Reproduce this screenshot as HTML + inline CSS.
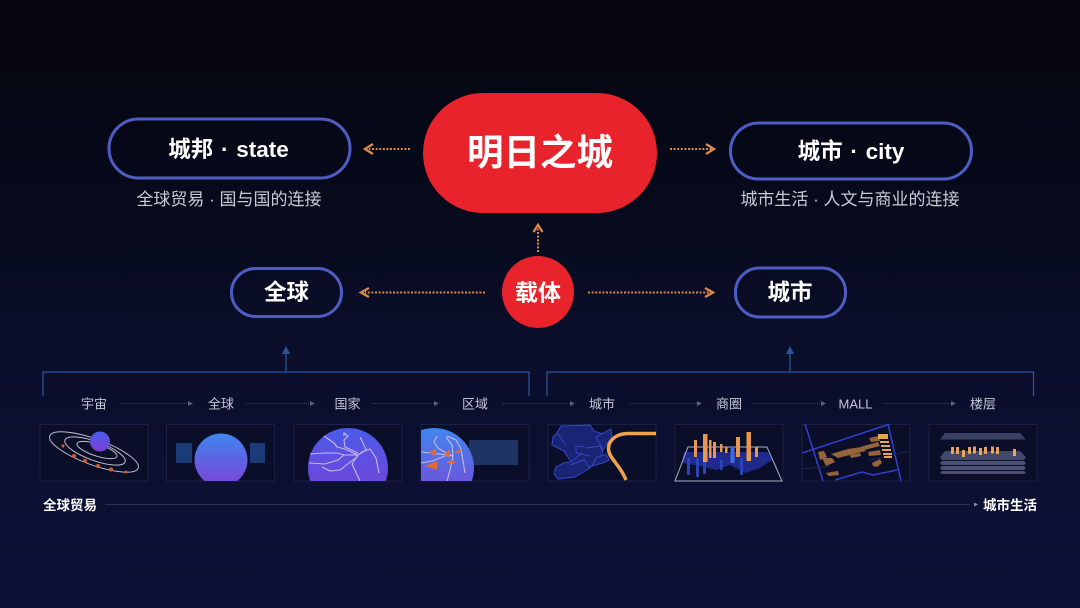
<!DOCTYPE html>
<html><head><meta charset="utf-8"><style>
html,body{margin:0;padding:0;width:1080px;height:608px;overflow:hidden;background:#060814}
svg{display:block}
text{font-family:"Liberation Sans","Noto Sans CJK SC",sans-serif;fill:#fff;text-anchor:middle}
.b{font-weight:700}
.l{font-size:13px;fill:#c4c7d4}
.s{font-size:17px;fill:#c8cad4}
.p{fill:none;stroke:#4f5cc4;stroke-width:3}
.o{stroke:#d98a4a;stroke-width:2;stroke-dasharray:2 1.6;fill:none}
.oh{stroke:#d98a4a;stroke-width:2.4;fill:none}
.g{stroke:#3a4058;stroke-width:1;stroke-dasharray:1 1;fill:none}
.gh{fill:#5a6078}
.f{fill:#0a0e28;stroke:#1a2145;stroke-width:1}
.br{stroke:#2c5299;stroke-width:1.3;fill:none}
.w{stroke:#c9b9e6;stroke-width:1.1;fill:none}
</style></head><body>
<svg width="1080" height="608" viewBox="0 0 1080 608" xmlns="http://www.w3.org/2000/svg">
<defs>
<linearGradient id="bg" x1="0" y1="0" x2="0" y2="1"><stop offset="0" stop-color="#05060f"/><stop offset=".35" stop-color="#070a1c"/><stop offset=".6" stop-color="#0b0f2c"/><stop offset="1" stop-color="#0c1138"/></linearGradient>
<linearGradient id="s1" x1="0" y1="0" x2="0" y2="1"><stop offset="0" stop-color="#4a5be8"/><stop offset="1" stop-color="#7d3fd6"/></linearGradient>
<linearGradient id="s2" x1="0" y1="0" x2="0" y2="1"><stop offset="0" stop-color="#3f86ee"/><stop offset="1" stop-color="#7d42d6"/></linearGradient>
<clipPath id="c2"><rect x="166" y="424" width="109" height="57"/></clipPath>
<clipPath id="c3"><rect x="294" y="424" width="108" height="57"/></clipPath>
<clipPath id="c4"><rect x="421" y="424" width="108" height="57"/></clipPath>
<clipPath id="c7"><rect x="802" y="424" width="108" height="57"/></clipPath>
</defs>
<rect width="1080" height="608" fill="url(#bg)"/>

<rect x="109" y="119" width="241" height="59" rx="29.5" class="p"/>
<text x="228.500" y="157" font-size="22.500" class="b" word-spacing="1.500">城邦 · state</text>
<text x="229" y="205" class="s">全球贸易 · 国与国的连接</text>
<rect x="730.500" y="123" width="241" height="56" rx="28" class="p"/>
<text x="851" y="159" font-size="22.500" class="b" word-spacing="1.500">城市 · city</text>
<text x="850" y="205" class="s">城市生活 · 人文与商业的连接</text>
<rect x="423" y="93" width="234" height="120" rx="60" fill="#e8232b"/>
<text x="540" y="165" font-size="36.500" class="b">明日之城</text>

<rect x="231.500" y="268.500" width="110" height="48" rx="24" class="p"/>
<text x="286.500" y="300" font-size="22.500" class="b">全球</text>
<rect x="735.500" y="268" width="110" height="49" rx="24" class="p"/>
<text x="790" y="300" font-size="22.500" class="b">城市</text>
<circle cx="538" cy="292" r="36" fill="#e8232b"/>
<text x="538" y="300.500" font-size="23" class="b">载体</text>

<path class="o" d="M410 149H369"/><path class="oh" d="M373 144L365 149L373 154"/>
<path class="o" d="M670 149H712"/><path class="oh" d="M706 144L714 149L706 154"/>
<path class="o" d="M538 252V229"/><path class="oh" d="M533.500 232L538 225L542.500 232"/>
<path class="o" d="M485 292.500H365"/><path class="oh" d="M369 288L361 292.500L369 297"/>
<path class="o" d="M588 292.500H711"/><path class="oh" d="M705 288L713 292.500L705 297"/>

<path class="br" d="M43 396V372H529V396"/>
<path class="br" d="M547 396V372H1033.500V396"/>
<path d="M286 372V349" stroke="#2c5299" stroke-width="1.3"/><path d="M282 354L286 346L290 354Z" fill="#2c5299"/>
<path d="M790 372V349" stroke="#2c5299" stroke-width="1.3"/><path d="M786 354L790 346L794 354Z" fill="#2c5299"/>

<g>
<text class="l" x="94" y="408.500">宇宙</text>
<text class="l" x="221" y="408.500">全球</text>
<text class="l" x="347.500" y="408.500">国家</text>
<text class="l" x="475" y="408.500">区域</text>
<text class="l" x="602" y="408.500">城市</text>
<text class="l" x="729" y="408.500">商圈</text>
<text class="l" x="855.500" y="408.500">MALL</text>
<text class="l" x="983" y="408.500">楼层</text>
</g>
<g>
<path class="g" d="M120 403.500H188"/><path class="gh" d="M188 401L193 403.500L188 406Z"/>
<path class="g" d="M246 403.500H310"/><path class="gh" d="M310 401L315 403.500L310 406Z"/>
<path class="g" d="M373 403.500H434"/><path class="gh" d="M434 401L439 403.500L434 406Z"/>
<path class="g" d="M503 403.500H570"/><path class="gh" d="M570 401L575 403.500L570 406Z"/>
<path class="g" d="M630 403.500H697"/><path class="gh" d="M697 401L702 403.500L697 406Z"/>
<path class="g" d="M753 403.500H821"/><path class="gh" d="M821 401L826 403.500L821 406Z"/>
<path class="g" d="M884 403.500H951"/><path class="gh" d="M951 401L956 403.500L951 406Z"/>
</g>

<rect class="f" x="40" y="424.500" width="108" height="56.500"/>
<rect class="f" x="166.500" y="424.500" width="108" height="56.500"/>
<rect class="f" x="294" y="424.500" width="108" height="56.500"/>
<rect class="f" x="421" y="424.500" width="108" height="56.500"/>
<rect class="f" x="548" y="424.500" width="108" height="56.500"/>
<rect class="f" x="675" y="424.500" width="108" height="56.500"/>
<rect class="f" x="802" y="424.500" width="108" height="56.500"/>
<rect class="f" x="929" y="424.500" width="108" height="56.500"/>

<!-- 1 orbit -->
<g fill="none" stroke="#c0bccb" stroke-width="1">
<ellipse cx="94" cy="452" rx="47" ry="13" transform="rotate(20 94 452)"/>
<ellipse cx="95" cy="451" rx="32" ry="9.500" transform="rotate(20 95 451)"/>
<ellipse cx="97" cy="450" rx="21" ry="6" transform="rotate(18 97 450)"/>
</g>
<circle cx="100" cy="441.500" r="10" fill="url(#s1)"/>
<g fill="#d9592f"><circle cx="63" cy="446" r="1.500"/><circle cx="74" cy="456" r="2"/><circle cx="85" cy="461" r="2"/><circle cx="98" cy="466" r="2"/><circle cx="111" cy="469.500" r="2"/><circle cx="126" cy="472" r="1.500"/></g>

<!-- 2 -->
<rect x="176" y="443" width="16" height="20" fill="#1b3a78"/>
<rect x="250" y="443" width="15" height="20" fill="#1b3a78"/>
<circle cx="221" cy="460" r="26.500" fill="url(#s2)" clip-path="url(#c2)"/>

<!-- 3 -->
<circle cx="348" cy="468" r="40" fill="url(#s1)" clip-path="url(#c3)"/>
<g class="w" clip-path="url(#c3)">
<path d="M324 436L334 443L337 447L345 449L358 455"/>
<path d="M344 436L344 433L348 436L344 440L345 447L358 453"/>
<path d="M360 437L364 445L366 450L358 455L362 452L370 449L376 458L379 473"/>
<path d="M310 454L325 453L337 453L344 455L358 455L352 464L360 481"/>
<path d="M309 463L325 464L338 460L344 455"/>
<path d="M322 467L330 471L340 470L358 456"/>
</g>
<!-- 4 -->
<rect x="469" y="440" width="49" height="25" fill="#1c3363"/>
<circle cx="434" cy="468" r="40" fill="url(#s2)" clip-path="url(#c4)"/>
<g class="w" clip-path="url(#c4)">
<path d="M437 436L434 442L438 448L446 453L453 456"/>
<path d="M446 437L452 445L453 456L450 470L447 481"/>
<path d="M447 436L456 440L461 449L465 473"/>
<path d="M421 452L432 453L453 456"/>
<path d="M421 463L432 461L445 456"/>
</g>
<g fill="#e06a3a"><path d="M428 452L436 449L436 457Z"/><path d="M425 466L437 461L437 470Z"/><path d="M444 454L450 449L450 458Z"/><path d="M455 451L463 449L458 454Z"/><rect x="447" y="461" width="8" height="2"/></g>

<!-- 5 -->
<g fill="#1a2474" stroke="#3348c8" stroke-width="1">
<path d="M561 426L590 425L594 431L600 433L604 434L603 444L600 446L603 452L598 459L590 468L575 477L558 479L554 474L556 467L564 463L571 462L564 451L552 445L553 437L557 433Z"/>
<path d="M590 468L584 460L570 465M557 433L566 445M585 447L576 446L576 453L590 456M601 446L586 448M571 462L582 453" fill="none"/>
<path d="M596 437L611 429L612 438L606 445L603 450Z"/>
<path d="M596 458L606 454L609 460L603 463L592 466Z"/>
</g>
<path d="M656 433.500H628C618 433.500 609 439 608.500 448C608 458 620 464 626 480" stroke="#f0a24e" stroke-width="3.500" fill="none"/>

<!-- 6 -->
<path d="M684 452L768 452L772 460L760 468L745 473L730 465L716 470L700 466L682 463Z" fill="#1f2a8c"/>
<g fill="#2a45b8"><rect x="687" y="458" width="3" height="17"/><rect x="696" y="458" width="3" height="19"/><rect x="703" y="460" width="3" height="14"/><rect x="720" y="460" width="2.500" height="10"/><rect x="740" y="458" width="3" height="17"/></g>
<path d="M688 447H767L782 481H675Z" fill="none" stroke="#aab0cc" stroke-width="1"/>
<g fill="#e8984c"><rect x="694" y="440" width="3" height="17"/><rect x="703" y="434" width="4.500" height="28"/><rect x="709" y="440" width="2.500" height="18"/><rect x="713" y="442" width="3" height="16"/><rect x="720" y="444" width="2.500" height="8"/><rect x="725" y="447" width="2.500" height="6"/><rect x="736" y="437" width="4" height="20"/><rect x="746.500" y="432" width="4.500" height="29"/><rect x="755" y="447" width="3" height="10"/></g>
<rect x="730.500" y="447" width="4" height="16" fill="#3f6be0"/>

<!-- 7 -->
<g clip-path="url(#c7)">
<path d="M802 453L890 424M805 424L823 481M888 424L901 481M835 480L862 472L873 475L897 470" stroke="#3040d0" stroke-width="1.500" fill="none"/>
<path d="M802 469L830 466M870 460L910 451" stroke="#1e2750" stroke-width="1" fill="none"/>
<g fill="#96643a"><path d="M818 452L824 451L827 457L820 460Z"/><path d="M822 458L832 458L835 462L826 466Z"/><path d="M831 454L848 449L862 447L866 451L838 458Z"/><path d="M860 447L878 442L880 446L864 450Z"/><path d="M869 438L879 436L880 441L871 442Z"/><path d="M850 455L860 453L861 456L851 458Z"/><path d="M868 452L880 450L881 455L869 456Z"/><path d="M872 463L880 459L882 463L877 467L873 466Z"/><path d="M826 473L838 471L839 475L829 476Z"/></g>
<g fill="#e6a552"><rect x="878" y="434" width="10" height="5"/><rect x="880" y="441" width="9" height="2"/><rect x="881" y="445" width="9" height="2"/><rect x="882" y="449" width="9" height="2"/><rect x="883" y="453" width="9" height="2"/><rect x="884" y="456" width="8" height="2"/></g>
</g>

<!-- 8 -->
<path d="M945 433H1020L1026 439.500H940Z" fill="#3a4063"/>
<path d="M945 451H1020L1026 457L1024 460H942L940 457Z" fill="#414868"/>
<path d="M942 461H1024L1026 463L1024 465H942L940 463Z" fill="#4a5172"/>
<path d="M942 466H1024L1026 468L1024 470H942L940 468Z" fill="#4a5172"/>
<path d="M942 471H1024L1026 472.500L1024 474H942L940 472.500Z" fill="#4a5172"/>
<g fill="#e8a458"><rect x="951" y="447" width="3" height="7"/><rect x="956" y="447" width="3" height="7"/><rect x="962" y="450" width="3" height="7"/><rect x="968" y="447" width="3" height="7"/><rect x="973" y="446.500" width="3" height="7"/><rect x="979" y="448" width="3" height="7"/><rect x="984" y="447" width="3" height="7"/><rect x="991" y="446.500" width="3" height="7"/><rect x="996" y="447" width="3" height="7"/><rect x="1013" y="449" width="3" height="7"/></g>

<text class="b" x="70" y="510" font-size="13.500">全球贸易</text>
<text class="b" x="1010" y="510" font-size="13.500">城市生活</text>
<path d="M105 504.500H970" stroke="#2a3258" stroke-width="1"/>
<path d="M974 502.500L978 504.500L974 506.500Z" fill="#8a90a6"/>
</svg>
</body></html>
